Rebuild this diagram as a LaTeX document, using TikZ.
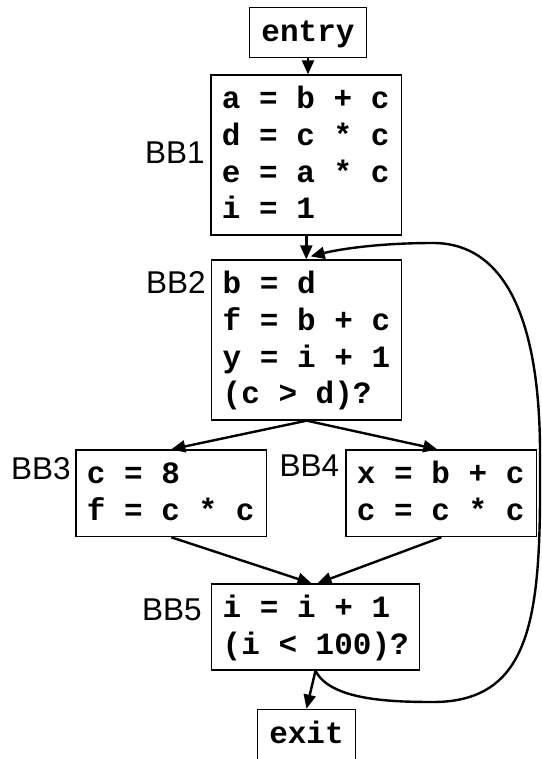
\documentclass[tikz,border=0pt]{standalone}
\usepackage{fontspec}
\setmonofont{Liberation Mono}
\newfontfamily\labfont{Liberation Sans}
\usetikzlibrary{arrows.meta}
\newcommand\cstrut{\rule[-9.4pt]{0pt}{36.4pt}}
\newcommand\cdln[1]{\mbox{\spaceskip=0.6em\xspaceskip=0.6em\relax\cstrut #1}}
\tikzset{
 blk/.style={draw, line width=1.3pt, inner xsep=11pt, inner ysep=0pt, align=left,
   font=\fontsize{31}{36.6}\selectfont\ttfamily\bfseries},
 lbl/.style={inner sep=0pt, anchor=base west, font=\fontsize{31.5}{36}\selectfont\labfont},
 edge/.style={line width=2.4pt, -{Triangle[length=14pt,width=12pt]}}
}
\begin{document}
\begin{tikzpicture}[x=1pt,y=-1pt]
\clip (0,0) rectangle (541,759);
\node[blk, align=center, text width=95.4pt, minimum height=50.4pt] (entry) at (308,32.5) {\cdln{entry}};
\node[blk, text width=168.7pt, minimum height=160pt] (BB1) at (306.3,155)
  {\cdln{a = b + c}\\\cdln{d = c * c}\\\cdln{e = a * c}\\\cdln{i = 1}};
\node[blk, text width=168pt, minimum height=160pt] (BB2) at (306.7,340)
  {\cdln{b = d}\\\cdln{f = b + c}\\\cdln{y = i + 1}\\\cdln{(c > d)?}};
\node[blk, text width=168.7pt, minimum height=86.7pt] (BB3) at (171.3,493.3)
  {\cdln{c = 8}\\\cdln{f = c * c}};
\node[blk, text width=168.7pt, minimum height=86.7pt] (BB4) at (441.3,493.3)
  {\cdln{x = b + c}\\\cdln{c = c * c}};
\node[blk, text width=185.6pt, minimum height=86pt] (BB5) at (315.5,627)
  {\cdln{i = i + 1}\\\cdln{(i < 100)?}};
\node[blk, align=center, text width=76.4pt, minimum height=50.7pt] (exit) at (306.5,734.65) {\cdln{exit}};

\node[lbl] (l1) at (144.8,163.3) {BB1};
\node[lbl] (l2) at (145.8,293.3) {BB2};
\node[lbl] (l3) at (10.8,479) {BB3};
\node[lbl] (l4) at (279.5,476) {BB4};
\node[lbl] (l5) at (141.8,620) {BB5};

\draw[edge] (entry.south) -- (entry.south |- BB1.north);
\draw[edge] (BB1.south) -- (BB1.south |- BB2.north);
\draw[edge] (BB2.south) -- (BB3.north);
\draw[edge] (BB2.south) -- ([xshift=-4pt]BB4.north);
\draw[edge] (BB3.south) -- ([xshift=-4pt]BB5.north);
\draw[edge] (BB4.south) -- ([xshift=2pt]BB5.north);
\draw[edge] (BB5.south) -- (exit.north);
\coordinate (loopbot) at (433,702);
\coordinate (loopright) at (540,460);
\coordinate (looptop) at (433,243);
\draw[edge] (BB5.south) .. controls (330,700) and (390,702) .. (loopbot)
  .. controls (535,702) and (541,610) .. (loopright)
  .. controls (541,330) and (510,243) .. (looptop)
  .. controls (380,243) and (340,249) .. ([shift={(4,-3)}]BB2.north);
\end{tikzpicture}
\end{document}
